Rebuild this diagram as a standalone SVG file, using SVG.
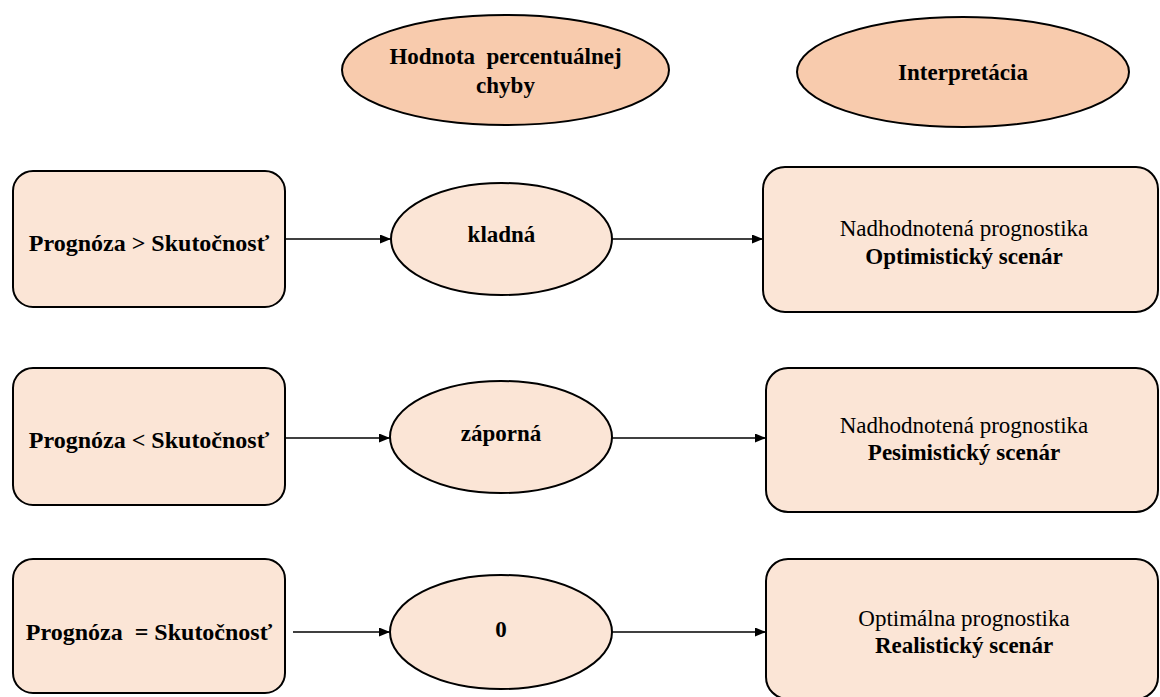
<svg xmlns="http://www.w3.org/2000/svg" width="1160" height="697" viewBox="0 0 1160 697">
<defs>
<style>
.hdr{fill:#F8CBAD;stroke:#000;stroke-width:2}
.nd{fill:#FBE5D6;stroke:#000;stroke-width:2}
text{font-family:'Liberation Serif','DejaVu Serif','Times New Roman',serif;font-size:23px;fill:#000;text-anchor:middle;white-space:pre}
.b{font-weight:bold}
.l{font-size:24px}
.c{stroke:#000;stroke-width:1.3;fill:none;marker-end:url(#ah)}
</style>
<marker id="ah" viewBox="0 0 11 9" refX="11" refY="4.5" markerWidth="11" markerHeight="9" markerUnits="userSpaceOnUse" orient="auto">
<path d="M0,0 L11,4.5 L0,9 Z" fill="#000"/>
</marker>
</defs>
<rect width="1160" height="697" fill="#fff"/>
<g id="hdr-hodnota">
<ellipse class="hdr" cx="505.5" cy="70" rx="163.5" ry="55"/>
<text class="b" x="505.5" y="64">Hodnota  percentuálnej</text>
<text class="b" x="505.5" y="93">chyby</text>
</g>
<g id="hdr-interpretacia">
<ellipse class="hdr" cx="963" cy="72" rx="166" ry="55"/>
<text class="b" x="963" y="80">Interpretácia</text>
</g>
<g id="connectors">
<line class="c" x1="285" y1="239" x2="391" y2="239"/>
<line class="c" x1="612" y1="239" x2="763" y2="239"/>
<line class="c" x1="285" y1="438" x2="390" y2="438"/>
<line class="c" x1="612" y1="438" x2="766" y2="438"/>
<line class="c" x1="293" y1="632" x2="390" y2="632"/>
<line class="c" x1="612" y1="632" x2="766" y2="632"/>
</g>
<g id="left1">
<rect class="nd" x="13" y="171" width="272" height="136" rx="20"/>
<text class="b l" x="149" y="251">Prognóza &gt; Skutočnosť</text>
</g>
<g id="mid1">
<ellipse class="nd" cx="501.5" cy="239" rx="110.5" ry="56"/>
<text class="b" x="501.5" y="242">kladná</text>
</g>
<g id="right1">
<rect class="nd" x="763" y="167" width="395" height="145" rx="22"/>
<text x="964" y="236">Nadhodnotená prognostika</text>
<text class="b" x="964" y="264">Optimistický scenár</text>
</g>
<g id="left2">
<rect class="nd" x="13" y="368" width="272" height="137" rx="20"/>
<text class="b l" x="149" y="448">Prognóza &lt; Skutočnosť</text>
</g>
<g id="mid2">
<ellipse class="nd" cx="501" cy="437" rx="111" ry="56"/>
<text class="b" x="501" y="441">záporná</text>
</g>
<g id="right2">
<rect class="nd" x="766" y="368" width="392" height="144" rx="22"/>
<text x="964" y="433">Nadhodnotená prognostika</text>
<text class="b" x="964" y="460">Pesimistický scenár</text>
</g>
<g id="left3">
<rect class="nd" x="13" y="559" width="272" height="134" rx="20"/>
<text class="b l" x="149" y="640">Prognóza  = Skutočnosť</text>
</g>
<g id="mid3">
<ellipse class="nd" cx="501" cy="632" rx="111" ry="57"/>
<text class="b" x="501" y="637">0</text>
</g>
<g id="right3">
<rect class="nd" x="766" y="559" width="392" height="140" rx="22"/>
<text x="964" y="626">Optimálna prognostika</text>
<text class="b" x="964" y="653">Realistický scenár</text>
</g>
</svg>
